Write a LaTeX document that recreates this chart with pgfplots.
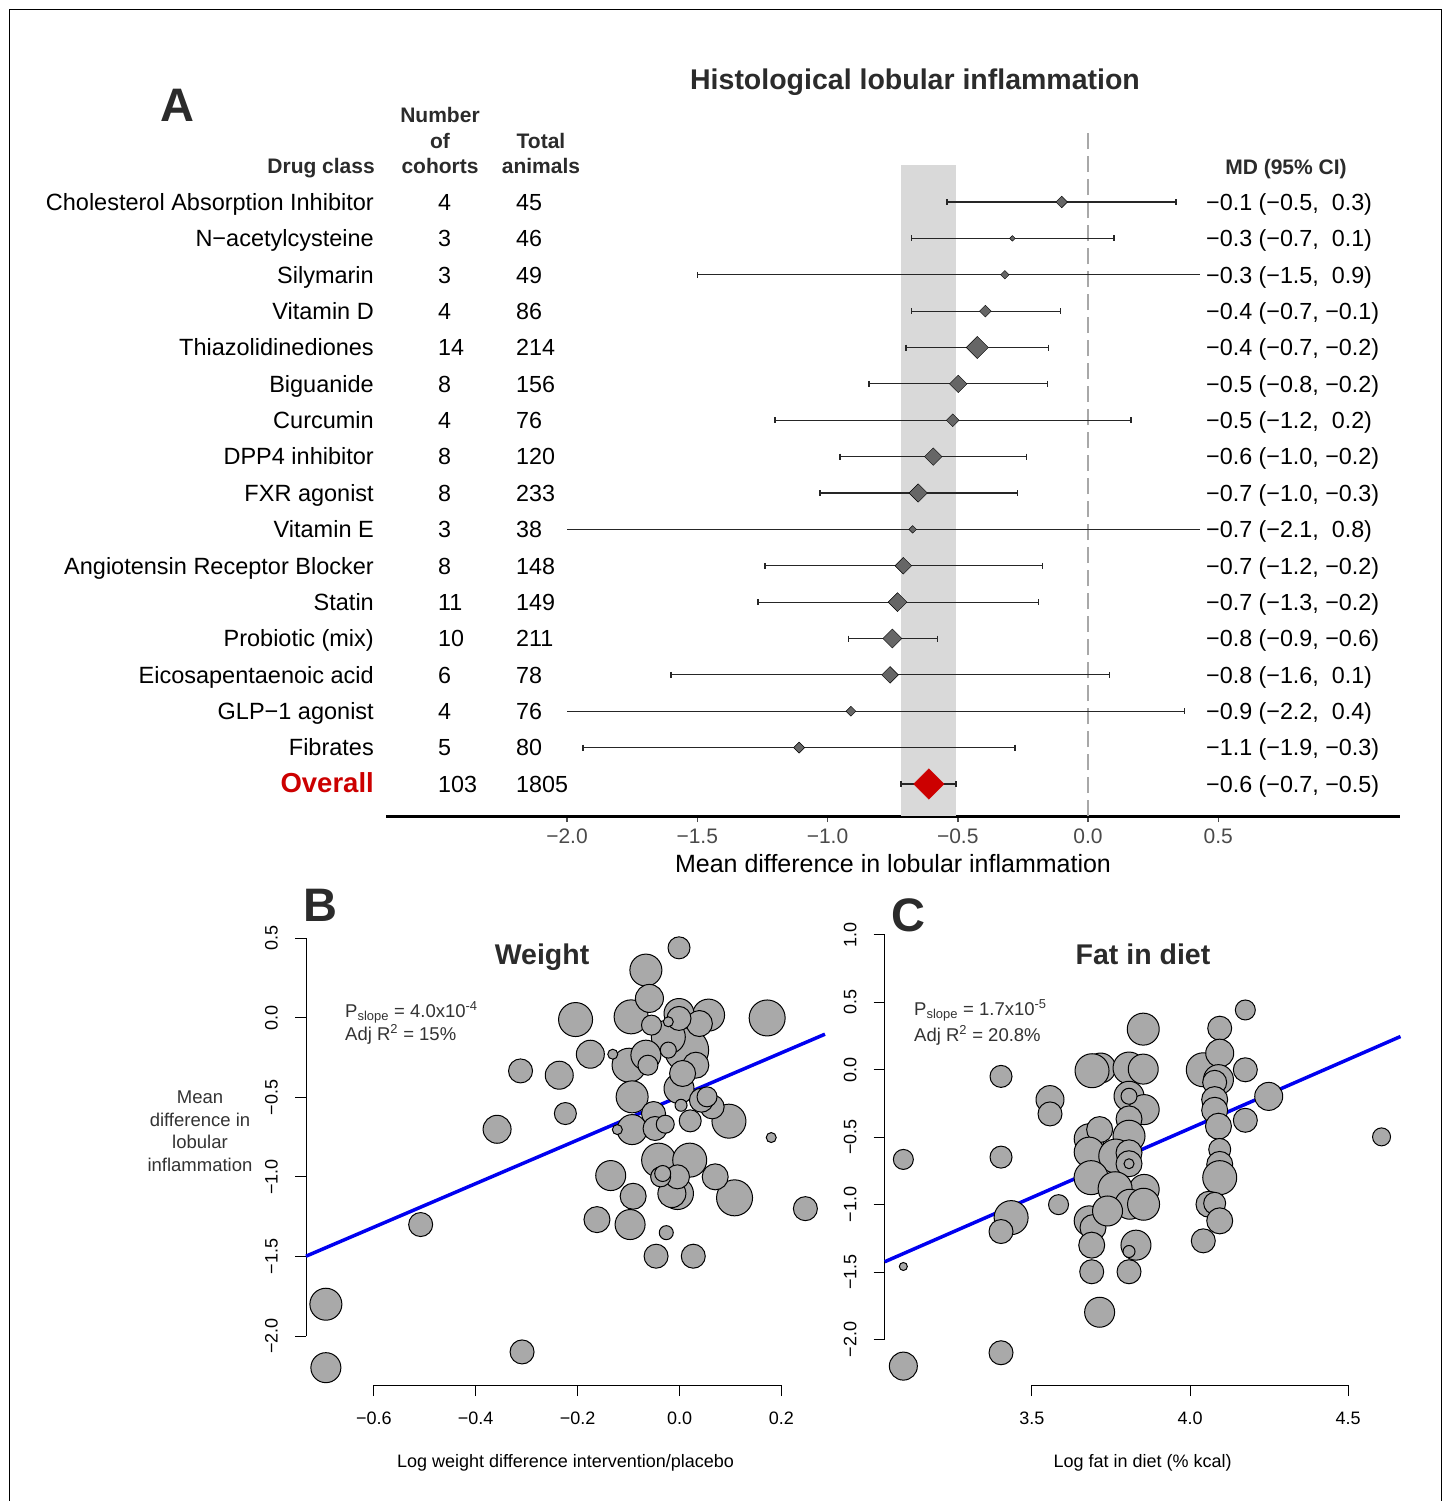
\documentclass[border=0pt]{standalone}
\usepackage{pgfplots}
\usepackage{pgfplotstable}
\pgfplotsset{compat=1.18}
\usepackage{fontspec}
\setmainfont{Liberation Sans}
\setsansfont{Liberation Sans}

\definecolor{diamondgray}{HTML}{666666}
\definecolor{bandgray}{HTML}{D9D9D9}
\definecolor{refgray}{HTML}{A8A8A8}
\definecolor{overallred}{HTML}{CC0000}
\definecolor{bubble}{HTML}{A9A9A9}
\definecolor{fitblue}{HTML}{0000F0}
\definecolor{hdr}{HTML}{2B2B2B}
\definecolor{ticktxt}{HTML}{4A4A4A}
\definecolor{anno}{HTML}{333333}

\newcommand\fsz[1]{\fontsize{#1}{#1}\selectfont}

% per-class pooled estimates (row index as negative y) and diamond half-side
\pgfplotstableread{
y    est     hs
-1   -0.101  4.1
-2   -0.290  2.0
-3   -0.319  3.0
-4   -0.394  4.2
-5   -0.425  7.8
-6   -0.498  6.2
-7   -0.519  4.5
-8   -0.594  6.2
-9   -0.652  6.5
-10  -0.673  2.7
-11  -0.709  5.9
-12  -0.731  6.7
-13  -0.751  6.7
-14  -0.760  5.9
-15  -0.910  3.5
-16  -1.109  3.9
}\classest

% cohort-level effect vs log weight difference (bubble radius ~ weight)
\pgfplotstableread{
x       y       r
0.014   -0.202  22
0.172    0.000  18
0.108   -1.131  18
-0.204  -0.010  17
-0.095   0.007  17
-0.099  -0.297  17
-0.022  -0.119  17
0.097   -0.649  17
-0.041  -0.894  17
0.020   -0.894  17
-0.066   0.301  16
0.057    0.018  16
-0.093  -0.496  16
-0.004  -1.104  16
-0.694  -1.800  16
-0.001   0.028  15
-0.001  -0.444  15
-0.093  -0.702  15
-0.135  -0.991  15
-0.097  -1.299  15
-0.694  -2.199  15
-0.066  -0.234  15
-0.059   0.123  14
-0.236  -0.360  14
-0.175  -0.228  14
-0.358  -0.700  14
-0.015  -1.104  14
0.039   -0.035  13
0.032   -0.297  13
0.070   -0.999  13
-0.091  -1.121  13
-0.162  -1.268  13
0.006   -0.349  13
-0.001  -0.003  12
-0.312  -0.333  12
0.064   -0.559  12
-0.051  -0.601  12
-0.048  -0.695  12
-0.004  -0.999  12
0.247   -1.199  12
-0.508  -1.299  12
-0.046  -1.498  12
0.027   -1.498  12
-0.309  -2.100  12
0.043   -0.517  12
-0.001   0.441  11
-0.224  -0.601  11
0.021   -0.647  11
-0.055  -0.045  10
-0.062  -0.297  10
0.054   -0.496  10
-0.037  -0.999  10
-0.028  -0.668   9
-0.022  -0.202   8
-0.033  -0.978   8
-0.026  -1.350   7
0.003   -0.549   6
-0.022  -0.024   5
-0.131  -0.228   5
-0.122  -0.702   5
0.180   -0.752   5
}\weightdata

% cohort-level effect vs log fat content of the diet
\pgfplotstableread{
x      y       r
3.093  -0.666  10
3.093  -1.459   4
3.093  -2.197  14
3.402  -0.051  11
3.402  -0.649  11
3.402  -2.098  12
3.434  -1.097  17
3.402  -1.200  12
3.557  -0.223  14
3.557  -0.329  12
3.584  -1.001  10
3.717   0.011  15
3.690  -0.009  17
3.807   0.011  16
3.852   0.003  15
3.852   0.299  16
3.807  -0.198  15
3.855  -0.297  15
3.807  -0.366  13
3.807  -0.494  16
3.681  -0.513  15
3.714  -0.445  13
3.681  -0.612  15
3.765  -0.641  17
3.807  -0.617  13
3.807  -0.698  13
3.687  -0.801  17
3.855  -0.888  15
3.763  -0.883  17
3.810  -0.998  15
3.853  -0.998  16
3.681  -1.121  15
3.693  -1.171  13
3.739  -1.048  15
3.689  -1.301  13
3.829  -1.301  15
3.689  -1.498  12
3.807  -1.498  12
3.714  -1.798  15
4.042  -0.002  17
4.094   0.306  12
4.094   0.121  14
4.175   0.441  10
4.175  -0.002  12
4.090  -0.075  15
4.078  -0.095  12
4.078  -0.223  13
4.078  -0.302  13
4.090  -0.420  13
4.175  -0.376  12
4.249  -0.199  14
4.094  -0.592  11
4.094  -0.703  13
4.094  -0.801  17
4.060  -0.998  13
4.078  -0.991  11
4.094  -1.121  13
4.042  -1.269  12
4.606  -0.499   9
3.807  -0.198   8
3.807  -0.698   5
3.807  -1.348   6
}\fatdata

\pgfplotsset{
  bubbles/.style={scatter, only marks, mark=*, line width=1pt,
    scatter/use mapped color={draw=black, fill=bubble},
    visualization depends on={\thisrow{r}\as\rr},
    scatter/@pre marker code/.append style={/tikz/mark size=\rr}},
  ci/.style={black!85, line width=1.2pt},
  panel/.style={scale only axis, clip=false, axis line style={draw=none},
    tick pos=left, tick align=outside, major tick length=11pt,
    tick style={black, line width=1pt},
    ticklabel style={font=\fsz{18}},
    xticklabel style={anchor=base, yshift=-28pt},
    yticklabel style={xshift=-17pt, rotate=90, anchor=south, inner sep=0pt},
    xlabel style={font=\fsz{18}, at={(axis description cs:0.5,0)}, anchor=base, yshift=-82pt}},
}

\begin{document}
\begin{tikzpicture}[x=1pt,y=1pt]
\path[use as bounding box] (0,0) rectangle (1447,-1501);
\fill[white] (0,0) rectangle (1447,-1501);
\draw[line width=1.4pt] (9.3,-1520) -- (9.3,-9.3) -- (1441.5,-9.3) -- (1441.5,-1520);

% ---------------- A: forest plot ----------------
\begin{axis}[
  at={(386pt,-816pt)}, anchor=south west,
  scale only axis, width=1014pt, height=683pt,
  xmin=-2.695, xmax=1.198, ymin=-17.88, ymax=0.897,
  clip=false,
  axis x line*=bottom, axis y line*=left,
  x axis line style={line width=3pt, black},
  y axis line style={draw=none},
  tick align=outside, major tick length=6pt,
  xtick={-2,-1.5,-1,-0.5,0,0.5},
  xticklabels={−2.0,−1.5,−1.0,−0.5,0.0,0.5},
  x tick style={line width=1.5pt, black!70},
  xticklabel style={font=\fsz{21}, text=ticktxt, anchor=base, yshift=-21pt},
  ytick={-1,-2,...,-17},
  yticklabels={Cholesterol Absorption Inhibitor, N−acetylcysteine, Silymarin,
    Vitamin D, Thiazolidinediones, Biguanide, Curcumin, DPP4 inhibitor,
    FXR agonist, Vitamin E, Angiotensin Receptor Blocker, Statin,
    Probiotic (mix), Eicosapentaenoic acid, GLP−1 agonist, Fibrates,
    {\color{overallred}\bfseries\fsz{27.5}Overall}},
  y tick style={draw=none},
  yticklabel style={font=\fsz{23.5}, anchor=base east, inner sep=0pt, xshift=-6pt, yshift=-8.3pt},
  xlabel={Mean difference in lobular inflammation},
  xlabel style={font=\fsz{25}, at={(axis description cs:0.5,0)}, anchor=base, yshift=-56pt},
]
% pooled 95% CI band and line of no effect
\addplot[draw=none, fill=bandgray] coordinates {(-0.718,-17.88) (-0.507,-17.88) (-0.507,0.017) (-0.718,0.017)};
\addplot[refgray, line width=2pt, dash pattern=on 16pt off 7pt] coordinates {(0,-17.88) (0,0.897)};
% confidence intervals (drawn range limited to -2.0 ... 0.43)
\addplot[ci] coordinates {(-0.541,-1) (0.338,-1)};
\addplot[ci] coordinates {(-0.677,-2) (0.100,-2)};
\addplot[ci] coordinates {(-1.500,-3) (0.430,-3)};
\addplot[ci] coordinates {(-0.677,-4) (-0.107,-4)};
\addplot[ci] coordinates {(-0.699,-5) (-0.152,-5)};
\addplot[ci] coordinates {(-0.841,-6) (-0.155,-6)};
\addplot[ci] coordinates {(-1.202,-7) (0.165,-7)};
\addplot[ci] coordinates {(-0.952,-8) (-0.235,-8)};
\addplot[ci] coordinates {(-1.029,-9) (-0.270,-9)};
\addplot[ci] coordinates {(-2.000,-10) (0.430,-10)};
\addplot[ci] coordinates {(-1.240,-11) (-0.175,-11)};
\addplot[ci] coordinates {(-1.267,-12) (-0.191,-12)};
\addplot[ci] coordinates {(-0.921,-13) (-0.577,-13)};
\addplot[ci] coordinates {(-1.601,-14) (0.084,-14)};
\addplot[ci] coordinates {(-2.000,-15) (0.369,-15)};
\addplot[ci] coordinates {(-1.939,-16) (-0.280,-16)};
\addplot[ci] coordinates {(-0.718,-17) (-0.507,-17)};
% end caps where the interval is not cut
\addplot[only marks, mark=|, mark size=3pt, black!85, mark options={line width=1.2pt}] coordinates {
 (-0.541,-1) (0.338,-1) (-0.677,-2) (0.100,-2) (-1.5,-3) (-0.677,-4) (-0.107,-4)
 (-0.699,-5) (-0.152,-5) (-0.841,-6) (-0.155,-6) (-1.202,-7) (0.165,-7)
 (-0.952,-8) (-0.235,-8) (-1.029,-9) (-0.270,-9) (-1.240,-11) (-0.175,-11)
 (-1.267,-12) (-0.191,-12) (-0.921,-13) (-0.577,-13) (-1.601,-14) (0.084,-14)
 (0.369,-15) (-1.939,-16) (-0.280,-16) (-0.718,-17) (-0.507,-17)};
% class estimates
\addplot[scatter, only marks, mark=square*, mark options={rotate=45},
  scatter/use mapped color={draw=none, fill=diamondgray},
  visualization depends on={\thisrow{hs}\as\hs},
  scatter/@pre marker code/.append style={/tikz/mark size=\hs}]
  table[x=est, y=y] {\classest};
% overall estimate
\addplot[only marks, overallred, mark=square*, mark size=10.8pt,
  mark options={rotate=45, draw=none, fill=overallred}] coordinates {(-0.611,-17)};
\end{axis}

% table columns beside the forest plot
\foreach \i/\nc/\na/\md in {
 1/4/45/{−0.1 (−0.5,\ \ 0.3)},
 2/3/46/{−0.3 (−0.7,\ \ 0.1)},
 3/3/49/{−0.3 (−1.5,\ \ 0.9)},
 4/4/86/{−0.4 (−0.7, −0.1)},
 5/14/214/{−0.4 (−0.7, −0.2)},
 6/8/156/{−0.5 (−0.8, −0.2)},
 7/4/76/{−0.5 (−1.2,\ \ 0.2)},
 8/8/120/{−0.6 (−1.0, −0.2)},
 9/8/233/{−0.7 (−1.0, −0.3)},
 10/3/38/{−0.7 (−2.1,\ \ 0.8)},
 11/8/148/{−0.7 (−1.2, −0.2)},
 12/11/149/{−0.7 (−1.3, −0.2)},
 13/10/211/{−0.8 (−0.9, −0.6)},
 14/6/78/{−0.8 (−1.6,\ \ 0.1)},
 15/4/76/{−0.9 (−2.2,\ \ 0.4)},
 16/5/80/{−1.1 (−1.9, −0.3)},
 17/103/1805/{−0.6 (−0.7, −0.5)}}{
  \pgfmathsetmacro\by{-(210.3+36.375*(\i-1))}
  \node[anchor=base west, inner sep=0pt, font=\fsz{23.3}] at (438,\by) {\nc};
  \node[anchor=base west, inner sep=0pt, font=\fsz{23.3}] at (516,\by) {\na};
  \node[anchor=base west, inner sep=0pt, font=\fsz{23.3}] at (1206,\by) {\md};
}
\begin{scope}[every node/.style={anchor=base, inner sep=0pt, text=hdr, font=\fsz{21}\bfseries}]
\node at (440,-122.7) {Number};
\node at (440,-148.3) {of};
\node at (440,-173.5) {cohorts};
\node at (541,-148.3) {Total};
\node at (541,-173.5) {animals};
\node[anchor=base east] at (375,-173.5) {Drug class};
\node at (1286,-174.5) {MD (95\% CI)};
\node[font=\fsz{28.5}\bfseries] at (915,-90) {Histological lobular inflammation};
\node[font=\fsz{47}\bfseries] at (177.5,-122) {A};
\node[font=\fsz{47}\bfseries] at (320,-921.7) {B};
\node[font=\fsz{47}\bfseries] at (908,-931) {C};
\node[font=\fsz{28.5}\bfseries] at (542,-964) {Weight};
\node[font=\fsz{28.5}\bfseries] at (1143,-964) {Fat in diet};
\end{scope}

% ---------------- B: weight ----------------
\begin{axis}[panel,
  at={(306pt,-1385pt)}, anchor=south west, width=519pt, height=455pt,
  xmin=-0.733, xmax=0.2855, ymin=-2.308, ymax=0.553,
  xtick={-0.6,-0.4,-0.2,0,0.2}, xticklabels={−0.6,−0.4,−0.2,0.0,0.2},
  ytick={-2,-1.5,-1,-0.5,0,0.5}, yticklabels={−2.0,−1.5,−1.0,−0.5,0.0,0.5},
  xlabel={Log weight difference intervention/placebo},
]
\addplot[black, line width=1pt] coordinates {(-0.6,-2.308) (0.2,-2.308)};
\addplot[black, line width=1pt] coordinates {(-0.733,-2) (-0.733,0.5)};
\addplot[fitblue, line width=3.5pt] coordinates {(-0.733,-1.498) (0.2855,-0.102)};
\addplot[bubbles] table[x=x, y=y] {\weightdata};
\end{axis}

% ---------------- C: fat in diet ----------------
\begin{axis}[panel,
  at={(884.7pt,-1385pt)}, anchor=south west, width=515.8pt, height=468pt,
  xmin=3.034, xmax=4.666, ymin=-2.337, ymax=1.1296,
  xtick={3.5,4,4.5}, xticklabels={3.5,4.0,4.5},
  ytick={-2,-1.5,-1,-0.5,0,0.5,1}, yticklabels={−2.0,−1.5,−1.0,−0.5,0.0,0.5,1.0},
  xlabel={Log fat in diet (\% kcal)},
]
\addplot[black, line width=1pt] coordinates {(3.5,-2.337) (4.5,-2.337)};
\addplot[black, line width=1pt] coordinates {(3.034,-2) (3.034,1)};
\addplot[fitblue, line width=3.5pt] coordinates {(3.034,-1.424) (4.666,0.2445)};
\addplot[bubbles] table[x=x, y=y] {\fatdata};
\end{axis}

% panel annotations
\begin{scope}[every node/.style={inner sep=0pt, text=anno, font=\fsz{18.5}}]
\node[anchor=base west] at (345,-1017) {P\textsubscript{slope} = 4.0x10\textsuperscript{-4}};
\node[anchor=base west] at (345,-1040) {Adj R\textsuperscript{2} = 15\%};
\node[anchor=base west] at (914,-1015) {P\textsubscript{slope} = 1.7x10\textsuperscript{-5}};
\node[anchor=base west] at (914,-1041) {Adj R\textsuperscript{2} = 20.8\%};
\node[anchor=base] at (200,-1103) {Mean};
\node[anchor=base] at (200,-1126) {difference in};
\node[anchor=base] at (200,-1148.5) {lobular};
\node[anchor=base] at (200,-1171.5) {inflammation};
\end{scope}
\end{tikzpicture}
\end{document}
